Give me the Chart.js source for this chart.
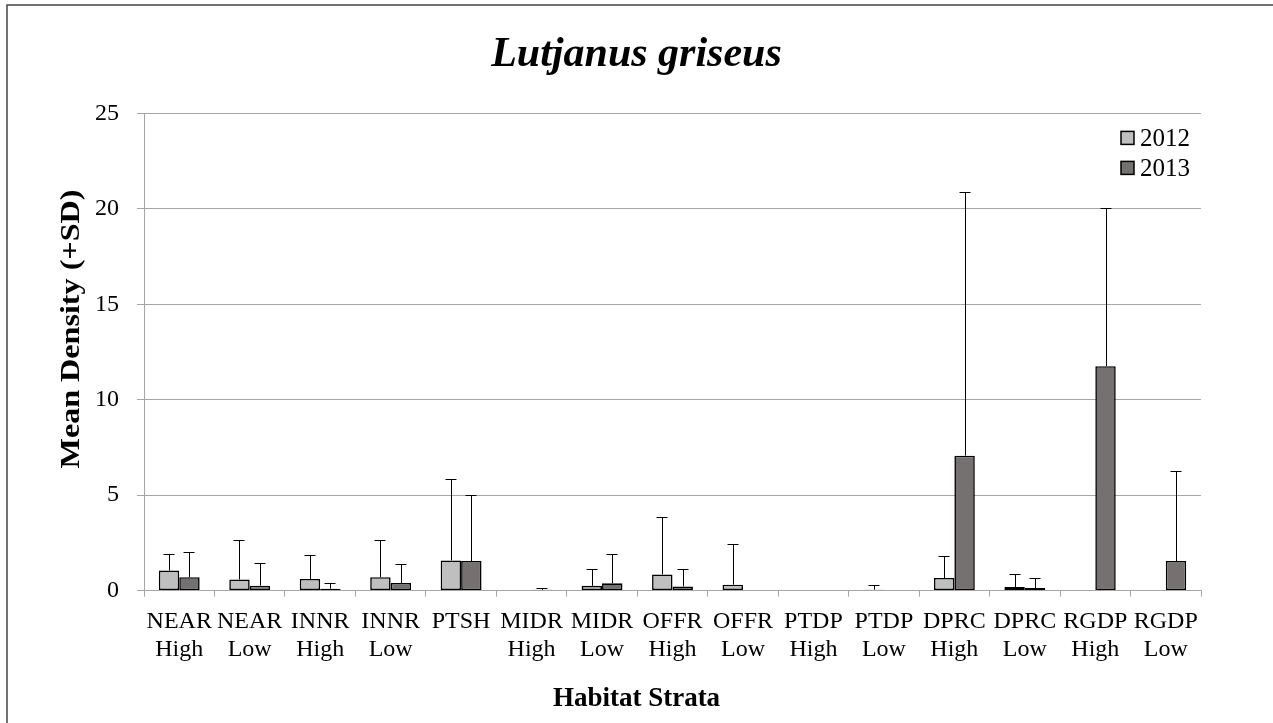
<!DOCTYPE html>
<html>
<head>
<meta charset="utf-8">
<title>Lutjanus griseus</title>
<script src="https://cdn.jsdelivr.net/npm/chart.js@4.4.1/dist/chart.umd.min.js"></script>
<style>
    html, body { margin: 0; padding: 0; background: #fff; }
    #wrap { width: 1273px; height: 723px; }
</style>
</head>
<body>
<div id="wrap"><canvas id="chart" width="1273" height="723"></canvas></div>
<script>
// Estratos de hábitat (eje X)
const strata = [
    ['NEAR', 'High'], ['NEAR', 'Low'], ['INNR', 'High'], ['INNR', 'Low'], ['PTSH', ''],
    ['MIDR', 'High'], ['MIDR', 'Low'], ['OFFR', 'High'], ['OFFR', 'Low'], ['PTDP', 'High'],
    ['PTDP', 'Low'], ['DPRC', 'High'], ['DPRC', 'Low'], ['RGDP', 'High'], ['RGDP', 'Low']
];

// Densidad media y desviación estándar por año
const mean2012 = [1.05, 0.58, 0.61, 0.70, 1.58, 0, 0.25, 0.85, 0.31, 0, 0.05, 0.66, 0.19, 0, 0];
const sd2012 = [0.87, 2.07, 1.24, 1.97, 4.26, 0, 0.86, 3.02, 2.11, 0, 0.25, 1.13, 0.70, 0, 0];
const mean2013 = [0.70, 0.26, 0.10, 0.40, 1.55, 0.04, 0.38, 0.22, 0, 0, 0, 7.07, 0.14, 11.76, 1.55];
const sd2013 = [1.30, 1.19, 0.30, 1.00, 3.45, 0.12, 1.54, 0.93, 0, 0, 0, 13.79, 0.50, 8.28, 4.74];

const yTicks = [0, 5, 10, 15, 20, 25];

const serif = "'Liberation Serif', 'Times New Roman', serif";

// Barras de error (+SD) dibujadas desde la parte superior de cada barra
const errorBars = {
    id: 'errorBars',
    afterDatasetsDraw(chart) {
        const { ctx } = chart;
        const yScale = chart.scales.y;
        ctx.save();
        ctx.strokeStyle = '#000';
        ctx.lineWidth = 1;
        chart.data.datasets.forEach((ds, i) => {
            const meta = chart.getDatasetMeta(i);
            meta.data.forEach((bar, j) => {
                const sd = ds.sd[j];
                if (!sd) return;
                const x = Math.round(bar.x) + 0.5;
                const yTop = Math.round(yScale.getPixelForValue(ds.data[j] + sd)) + 0.5;
                ctx.beginPath();
                ctx.moveTo(x, bar.y);
                ctx.lineTo(x, yTop);
                ctx.moveTo(x - 6, yTop);
                ctx.lineTo(x + 5, yTop);
                ctx.stroke();
            });
        });
        ctx.restore();
    }
};

// Leyenda dentro del área del gráfico (esquina superior derecha)
const insideLegend = {
    id: 'insideLegend',
    afterDraw(chart) {
        const { ctx, chartArea } = chart;
        ctx.save();
        ctx.font = '25px ' + serif;
        ctx.textBaseline = 'middle';
        chart.data.datasets.forEach((ds, i) => {
            const x = chartArea.right - 80;
            const y = chartArea.top + 25 + i * 30;
            ctx.fillStyle = ds.backgroundColor;
            ctx.fillRect(x, y - 7, 13, 13);
            ctx.strokeStyle = '#000';
            ctx.lineWidth = 1.5;
            ctx.strokeRect(x, y - 7, 13, 13);
            ctx.fillStyle = '#000';
            ctx.fillText(ds.label, x + 19, y + 1);
        });
        ctx.restore();
    }
};

// Título del eje Y (un poco estirado a lo largo, como en el original)
const yAxisTitle = {
    id: 'yAxisTitle',
    afterDraw(chart) {
        const { ctx, chartArea } = chart;
        const cy = (chartArea.top + chartArea.bottom) / 2 - 23;
        ctx.save();
        ctx.translate(72, cy);
        ctx.rotate(-Math.PI / 2);
        ctx.scale(1.19, 1);
        ctx.font = 'bold 27px ' + serif;
        ctx.fillStyle = '#000';
        ctx.textAlign = 'center';
        ctx.textBaseline = 'middle';
        ctx.fillText('Mean Density (+SD)', 0, 0);
        ctx.restore();
    }
};

// Fondo blanco y marco exterior
const frame = {
    id: 'frame',
    beforeDraw(chart) {
        const { ctx, width, height } = chart;
        ctx.save();
        ctx.fillStyle = '#fff';
        ctx.fillRect(0, 0, width, height);
        ctx.strokeStyle = '#444';
        ctx.lineWidth = 1.5;
        ctx.strokeRect(7, 5, width + 20, height + 20);
        ctx.restore();
    }
};

new Chart(document.getElementById('chart'), {
    type: 'bar',
    data: {
        labels: strata,
        datasets: [{
            label: '2012',
            data: mean2012,
            sd: sd2012,
            backgroundColor: '#bfbfbf',
            borderColor: '#000',
            borderWidth: 1.6,
            borderSkipped: false,
            categoryPercentage: 0.58,
            barPercentage: 1
        }, {
            label: '2013',
            data: mean2013,
            sd: sd2013,
            backgroundColor: '#767171',
            borderColor: '#000',
            borderWidth: 1.6,
            borderSkipped: false,
            categoryPercentage: 0.58,
            barPercentage: 1
        }]
    },
    options: {
        responsive: false,
        animation: false,
        layout: {
            padding: { left: 7, right: 7, top: 10, bottom: 0 }
        },
        scales: {
            x: {
                grid: {
                    drawOnChartArea: false,
                    drawTicks: true,
                    tickLength: 6,
                    color: '#a6a6a6'
                },
                border: { color: '#a6a6a6' },
                ticks: {
                    color: '#000',
                    font: { family: serif, size: 24, lineHeight: 1.17 },
                    padding: 11,
                    maxRotation: 0,
                    autoSkip: false
                },
                afterFit(scale) {
                    scale.height = 92;
                }
            },
            y: {
                min: 0,
                max: 25,
                afterBuildTicks(scale) {
                    scale.ticks = yTicks.map(v => ({ value: v }));
                },
                grid: {
                    color: '#a6a6a6',
                    tickLength: 7
                },
                border: { color: '#a6a6a6' },
                ticks: {
                    color: '#000',
                    font: { family: serif, size: 24 },
                    padding: 18
                },
                afterFit(scale) {
                    scale.width = 137;
                }
            },
            // eje vacío a la derecha: sólo reserva el margen derecho
            yRight: {
                position: 'right',
                grid: { display: false },
                border: { display: false },
                ticks: { display: false },
                afterFit(scale) {
                    scale.width = 65;
                }
            }
        },
        plugins: {
            legend: { display: false },
            tooltip: { enabled: false },
            title: {
                display: true,
                text: 'Lutjanus griseus',
                color: '#000',
                font: { family: serif, size: 42, style: 'italic', weight: 'bold' },
                padding: { top: 20, bottom: 33 }
            },
            subtitle: {
                display: true,
                position: 'bottom',
                text: 'Habitat Strata',
                color: '#000',
                font: { family: serif, size: 27, weight: 'bold' },
                padding: { top: 0, bottom: 8 }
            }
        }
    },
    plugins: [frame, errorBars, insideLegend, yAxisTitle]
});
</script>
</body>
</html>
